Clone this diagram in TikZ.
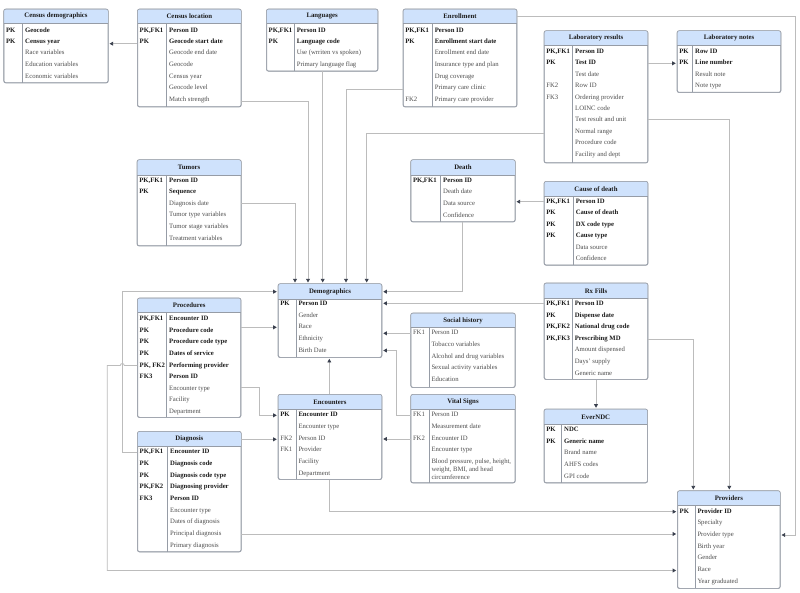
\documentclass[tikz,border=0pt]{standalone}
\usepackage{fontspec}
\setmainfont{Liberation Serif}
\usetikzlibrary{arrows.meta,fit}
\definecolor{hdr}{RGB}{207,226,252}
\definecolor{border}{RGB}{150,156,166}
\definecolor{lineg}{RGB}{188,188,188}
\definecolor{arrowc}{RGB}{58,64,78}
\definecolor{txtb}{RGB}{28,28,28}
\definecolor{txtn}{RGB}{78,78,78}
\newcounter{erow}
\tikzset{
 tabbox/.style={draw=border, fill=white, rounded corners=2pt, inner sep=0pt, line width=0.6pt},
 tabrule/.style={draw=border, line width=0.5pt},
 ttl/.style={font=\fontsize{6.8}{7}\selectfont\bfseries, text=txtb, inner sep=0pt},
 keyt/.style={anchor=west, inner sep=0pt, text height=4.6pt, text depth=1.4pt, font=\fontsize{6.7}{7}\selectfont, text=txtn},
 nb/.style={},
 bb/.style={font=\fontsize{6.7}{7}\selectfont\bfseries, text=txtb},
 conn/.style={draw=lineg, line width=0.8pt},
 arr/.style={conn, -{Triangle[length=3.6pt,width=3.8pt,color=arrowc]}, shorten >=1.2pt},
}
% #1 id #2 left #3 top #4 right #5 bottom #6 divider x #7 header bottom #8 title
\newcommand\ertab[8]{%
 \path (#2,#3) coordinate (#1-nw) (#4,#5) coordinate (#1-se);
 \node[tabbox, fit=(#1-nw)(#1-se)] (#1) {};
 \fill[hdr] (#2,#7) [rounded corners=2pt] -- (#2,#3) -- (#4,#3) [sharp corners] -- (#4,#7) -- cycle;
 \draw[tabrule] (#2,#7) -- (#4,#7) (#6,#7) -- (#6,#5);
 \draw[border, line width=0.6pt, rounded corners=2pt] (#1.north west) rectangle (#1.south east);
 \node[ttl] (#1-t) at ({(#2+#4)/2},{(#3+#7)/2}) {#8};
 \gdef\curL{#2}\gdef\curD{#6}%
}
% #1 y #2 key #3 text #4 style
\newcommand\erow[4]{%
 \stepcounter{erow}%
 \node[keyt,#4] (k\theerow) at (\curL+1.8,#1) {#2};
 \node[keyt,#4] (r\theerow) at (\curD+2.3,#1) {#3};
}
\begin{document}
\begin{tikzpicture}[x=1pt,y=-1pt]
\useasboundingbox[fill=white] (0,0) rectangle (800,593);

% Census demographics
\ertab{cd}{4}{9.3}{108}{82.7}{22.7}{23.3}{Census demographics}
\erow{30.7}{PK}{Geocode}{bb}
\erow{42}{PK}{Census year}{bb}
\erow{53.3}{}{Race variables}{nb}
\erow{65}{}{Education variables}{nb}
\erow{76.7}{}{Economic variables}{nb}

% Census location
\ertab{cl}{137.7}{9.3}{241}{106.7}{166.7}{23.3}{Census location}
\erow{30.7}{PK,FK1}{Person ID}{bb}
\erow{42}{PK}{Geocode start date}{bb}
\erow{53.3}{}{Geocode end date}{nb}
\erow{65}{}{Geocode}{nb}
\erow{76.7}{}{Census year}{nb}
\erow{88.3}{}{Geocode level}{nb}
\erow{100}{}{Match strength}{nb}

% Languages
\ertab{lang}{266.7}{9.3}{377.7}{71}{294.3}{23.3}{Languages}
\erow{30.7}{PK,FK1}{Person ID}{bb}
\erow{42}{PK}{Language code}{bb}
\erow{53.3}{}{Use (wrriten vs spoken)}{nb}
\erow{65}{}{Primary language flag}{nb}

% Enrollment
\ertab{enr}{403.3}{9.3}{516.7}{106.7}{432.3}{23.3}{Enrollment}
\erow{30.7}{PK,FK1}{Person ID}{bb}
\erow{42}{PK}{Enrollment start date}{bb}
\erow{53.3}{}{Enrollment end date}{nb}
\erow{65}{}{Insurance type and plan}{nb}
\erow{76.7}{}{Drug coverage}{nb}
\erow{88.3}{}{Primary care clinic}{nb}
\erow{100}{FK2}{Primary care provider}{nb}

% Laboratory results
\ertab{lab}{544.3}{31}{647.7}{162.7}{572.7}{45}{Laboratory results}
\erow{52}{PK,FK1}{Person ID}{bb}
\erow{63.3}{PK}{Test ID}{bb}
\erow{74.7}{}{Test date}{nb}
\erow{86}{FK2}{Row ID}{nb}
\erow{97.5}{FK3}{Ordering provider}{nb}
\erow{109}{}{LOINC code}{nb}
\erow{120.3}{}{Test result and unit}{nb}
\erow{131.7}{}{Normal range}{nb}
\erow{143.2}{}{Procedure code}{nb}
\erow{154.7}{}{Facility and dept}{nb}

% Laboratory notes
\ertab{labn}{677.3}{31}{780.7}{92.3}{692.7}{45}{Laboratory notes}
\erow{52}{PK}{Row ID}{bb}
\erow{63.3}{PK}{Line number}{bb}
\erow{74.7}{}{Result note}{nb}
\erow{86}{}{Note type}{nb}

% Tumors
\ertab{tum}{137.3}{160}{241}{245.7}{166.7}{175}{Tumors}
\erow{180.7}{PK,FK1}{Person ID}{bb}
\erow{192.3}{PK}{Sequence}{bb}
\erow{203.8}{}{Diagnosis date}{nb}
\erow{215.4}{}{Tumor type variables}{nb}
\erow{227}{}{Tumor stage variables}{nb}
\erow{238.6}{}{Treatment variables}{nb}

% Death
\ertab{death}{411}{160}{515}{221.7}{440.7}{175}{Death}
\erow{180.7}{PK,FK1}{Person ID}{bb}
\erow{192.3}{}{Death date}{nb}
\erow{204}{}{Data source}{nb}
\erow{215.7}{}{Confidence}{nb}

% Cause of death
\ertab{cod}{544.3}{181.7}{647.7}{265}{573.3}{196}{Cause of death}
\erow{201.7}{PK,FK1}{Person ID}{bb}
\erow{213.2}{PK}{Cause of death}{bb}
\erow{224.7}{PK}{DX code type}{bb}
\erow{236.2}{PK}{Cause type}{bb}
\erow{247.7}{}{Data source}{nb}
\erow{259.2}{}{Confidence}{nb}

% Demographics
\ertab{demo}{278.3}{284}{381.7}{357.3}{296}{299.3}{Demographics}
\erow{304}{PK}{Person ID}{bb}
\erow{315.7}{}{Gender}{nb}
\erow{327.3}{}{Race}{nb}
\erow{339}{}{Ethnicity}{nb}
\erow{350.7}{}{Birth Date}{nb}

% Rx Fills
\ertab{rx}{544.3}{283.3}{647.7}{379.3}{572.3}{298.3}{Rx Fills}
\erow{304}{PK,FK1}{Person ID}{bb}
\erow{315.6}{PK}{Dispense date}{bb}
\erow{327.2}{PK,FK2}{National drug code}{bb}
\erow{338.8}{PK,FK3}{Prescribing MD}{bb}
\erow{350.4}{}{Amount dispensed}{nb}
\erow{362}{}{Days' supply}{nb}
\erow{373.6}{}{Generic name}{nb}

% Procedures
\ertab{proc}{137.7}{298.3}{240.7}{417.3}{166.7}{312.7}{Procedures}
\erow{319}{PK,FK1}{Encounter ID}{bb}
\erow{330.7}{PK}{Procedure code}{bb}
\erow{342.3}{PK}{Procedure code type}{bb}
\erow{353.9}{PK}{Dates of service}{bb}
\erow{365.5}{PK, FK2}{Performing provider}{bb}
\erow{377.1}{FK3}{Person ID}{bb}
\erow{388.7}{}{Encounter type}{nb}
\erow{400.3}{}{Facility}{nb}
\erow{411.9}{}{Department}{nb}

% Social history
\ertab{soc}{411}{313.3}{515}{387.3}{429}{327.7}{Social history}
\erow{333.3}{FK1}{Person ID}{nb}
\erow{345}{}{Tobacco variables}{nb}
\erow{356.7}{}{Alcohol and drug variables}{nb}
\erow{368.3}{}{Sexual activity variables}{nb}
\erow{380}{}{Education}{nb}

% Encounters
\ertab{enc}{278.3}{394.7}{381.7}{479.3}{296}{409}{Encounters}
\erow{415.3}{PK}{Encounter ID}{bb}
\erow{427}{}{Encounter type}{nb}
\erow{438.7}{FK2}{Person ID}{nb}
\erow{450.3}{FK1}{Provider}{nb}
\erow{462}{}{Facility}{nb}
\erow{473.6}{}{Department}{nb}

% Vital Signs
\ertab{vit}{411}{394.7}{515}{482.7}{429}{409}{Vital Signs}
\erow{415}{FK1}{Person ID}{nb}
\erow{426.7}{}{Measurement date}{nb}
\erow{438.4}{FK2}{Encounter ID}{nb}
\erow{450.1}{}{Encounter type}{nb}
\erow{462.3}{}{Blood pressure, pulse, height,}{nb}
\erow{469.9}{}{weight, BMI, and head}{nb}
\erow{477.5}{}{circumference}{nb}

% EverNDC
\ertab{ndc}{544.3}{409.3}{647.3}{482.7}{561.7}{424.3}{EverNDC}
\erow{430}{PK}{NDC}{bb}
\erow{441.7}{PK}{Generic name}{bb}
\erow{453.3}{}{Brand name}{nb}
\erow{465}{}{AHFS codes}{nb}
\erow{476.7}{}{GPI code}{nb}

% Diagnosis
\ertab{diag}{137.7}{431.7}{241}{551.7}{167.7}{446.7}{Diagnosis}
\erow{452.3}{PK,FK1}{Encounter ID}{bb}
\erow{464}{PK}{Diagnosis code}{bb}
\erow{475.7}{PK}{Diagnosis code type}{bb}
\erow{487.3}{PK,FK2}{Diagnosing provider}{bb}
\erow{499}{FK3}{Person ID}{bb}
\erow{510.7}{}{Encounter type}{nb}
\erow{522.3}{}{Dates of diagnosis}{nb}
\erow{534}{}{Principal diagnosis}{nb}
\erow{545.7}{}{Primary diagnosis}{nb}

% Providers
\ertab{prov}{677.7}{491}{780}{588.3}{695}{505.7}{Providers}
\erow{511.7}{PK}{Provider ID}{bb}
\erow{523.3}{}{Specialty}{nb}
\erow{535}{}{Provider type}{nb}
\erow{546.7}{}{Birth year}{nb}
\erow{558.3}{}{Gender}{nb}
\erow{570}{}{Race}{nb}
\erow{581.7}{}{Year graduated}{nb}

% ---------- connectors ----------
\draw[arr] (cl.west |- 0,43.7) -- (cd.east |- 0,43.7);
\draw[arr] (cl.east |- 0,101) -| (308,0 |- demo.north);
\draw[arr] (tum.east |- 0,203.3) -| (295,0 |- demo.north);
\draw[arr] (322.7,0 |- lang.south) -- (322.7,0 |- demo.north);
\draw[arr] (enr.west |- 0,89) -| (346,0 |- demo.north);
\draw[arr] (lab.west |- 0,133) -| (366.7,0 |- demo.north);
\draw[arr] (462.7,0 |- death.south) |- (demo.east |- 0,291.7);
\draw[arr] (rx.west |- 0,303.3) -- (demo.east |- 0,303.3);
\draw[arr] (soc.west |- 0,333.3) -- (demo.east |- 0,333.3);
\draw[arr] (vit.west |- 0,415) -- (396.7,415) |- (demo.east |- 0,350.5);
\draw[arr] (vit.west |- 0,439) -- (enc.east |- 0,439);
\draw[arr] (329.3,0 |- enc.north) -- (329.3,0 |- demo.south);
\draw[arr] (proc.east |- 0,327.3) -- (demo.west |- 0,327.3);
\draw[arr] (proc.east |- 0,387.3) -- (259.3,387.3) |- (enc.west |- 0,415.3);
\draw[arr] (diag.east |- 0,439.3) -- (enc.west |- 0,439.3);
\draw[arr] (diag.west |- 0,452.3) -- (122.3,452.3) |- (demo.west |- 0,291.7);
\draw[arr] (proc.west |- 0,365.5) -- (124.3,365.5) arc[start angle=0,end angle=-180,radius=2] -- (107.3,365.5) |- (prov.west |- 0,570.5);
\draw[arr] (diag.east |- 0,534) -- (prov.west |- 0,534);
\draw[arr] (329.3,0 |- enc.south) |- (prov.west |- 0,511.7);
\draw[arr] (lab.east |- 0,119) -| (729.3,0 |- prov.north);
\draw[arr] (rx.east |- 0,339) -| (693.3,0 |- prov.north);
\draw[arr] (enr.east |- 0,16.7) -- (795,16.7) |- (prov.east |- 0,535);
\draw[arr] (lab.east |- 0,63.3) -- (labn.west |- 0,63.3);
\draw[arr] (cod.west |- 0,201.7) -- (death.east |- 0,201.7);
\draw[arr] (596,0 |- rx.south) -- (596,0 |- ndc.north);
\end{tikzpicture}
\end{document}
